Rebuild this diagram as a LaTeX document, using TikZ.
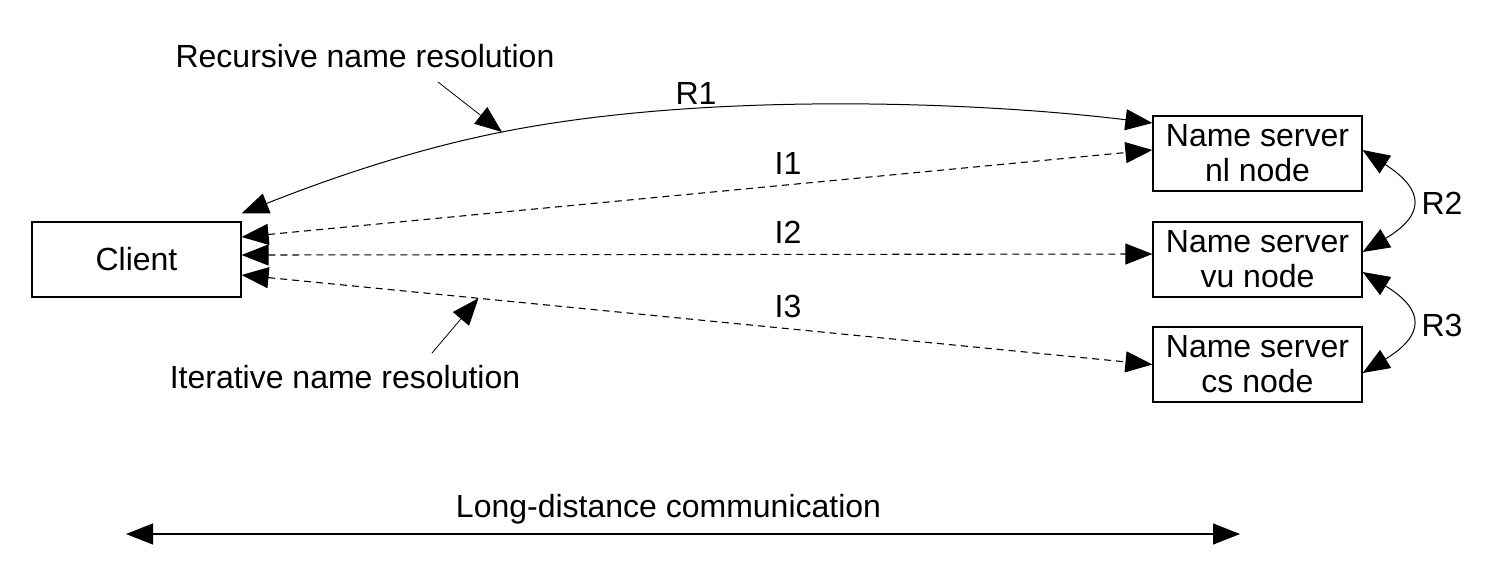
\documentclass[tikz,border=0pt]{standalone}
\usepackage{fontspec}
\setmainfont{Liberation Sans}
\usetikzlibrary{arrows.meta,calc}

\begin{document}
\begin{tikzpicture}[
  x=0.5pt, y=-0.5pt,
  >={Triangle[length=13.5pt,width=10.5pt]},
  every node/.style={inner sep=1pt, font=\fontsize{16}{17.5}\selectfont},
  host/.style={draw, line width=0.6pt, minimum width=104.5pt, minimum height=37.5pt, inner sep=0pt, align=center},
  link/.style={draw, line width=0.5pt, <->},
  dlink/.style={draw, line width=0.55pt, <->, dash pattern=on 3.5pt off 2.5pt},
  pointer/.style={draw, line width=0.4pt, ->}]

  \useasboundingbox (0,0) rectangle (1490,586);

  % hosts
  \node[host] (client) at (136.5,259.5) {Client};
  \node[host] (nl) at (1257.5,153.5) {Name server\\nl node};
  \node[host] (vu) at (1257.5,259.5) {Name server\\vu node};
  \node[host] (cs) at (1257.5,364.5) {Name server\\cs node};

  % recursive resolution
  \draw[link] ($(client.north east)+(0,-8)$) .. controls (328,179) and (415,149) .. (502,132) coordinate (r1mid)
    .. controls (702,92) and (972,101) .. ($(nl.west)+(0,-30.5)$);
  \node (r1) at (696,93) {R1};
  \draw[link] ($(nl.east)+(0,-3.5)$) .. controls (1425,190) and (1425,215) .. ($(vu.east)+(0,-7.5)$);
  \node (r2) at (1442,203) {R2};
  \draw[link] ($(vu.east)+(0,12.5)$) .. controls (1425,310) and (1425,335) .. ($(cs.east)+(0,8.5)$);
  \node (r3) at (1442,325) {R3};

  % iterative resolution
  \draw[dlink] ($(client.east)+(0,-22.5)$) -- node[pos=0.6, above=4pt] {I1} ($(nl.west)+(0,-3.5)$);
  \draw[dlink] ($(client.east)+(0,-4.5)$) -- node[pos=0.6, above=4pt] {I2} ($(vu.west)+(0,-5.5)$);
  \draw[dlink] ($(client.east)+(0,15.5)$) -- node[pos=0.6, above=4pt] {I3} coordinate[pos=0.26] (i3pt) (cs.west);

  % labels with pointers
  \node (recursive) at (365,56) {Recursive name resolution};
  \coordinate (recptr) at (438,82);
  \draw[pointer] (recptr) -- (r1mid);
  \node (iterative) at (345,377) {Iterative name resolution};
  \coordinate (itptr) at (432,353);
  \draw[pointer] (itptr) -- (i3pt);

  % distance
  \coordinate (farleft) at (126,534);
  \coordinate (farright) at (1240,534);
  \draw[link, line width=0.6pt] (farleft) -- node[pos=0.487, above=3.4pt] {Long-distance communication} (farright);

\end{tikzpicture}
\end{document}
